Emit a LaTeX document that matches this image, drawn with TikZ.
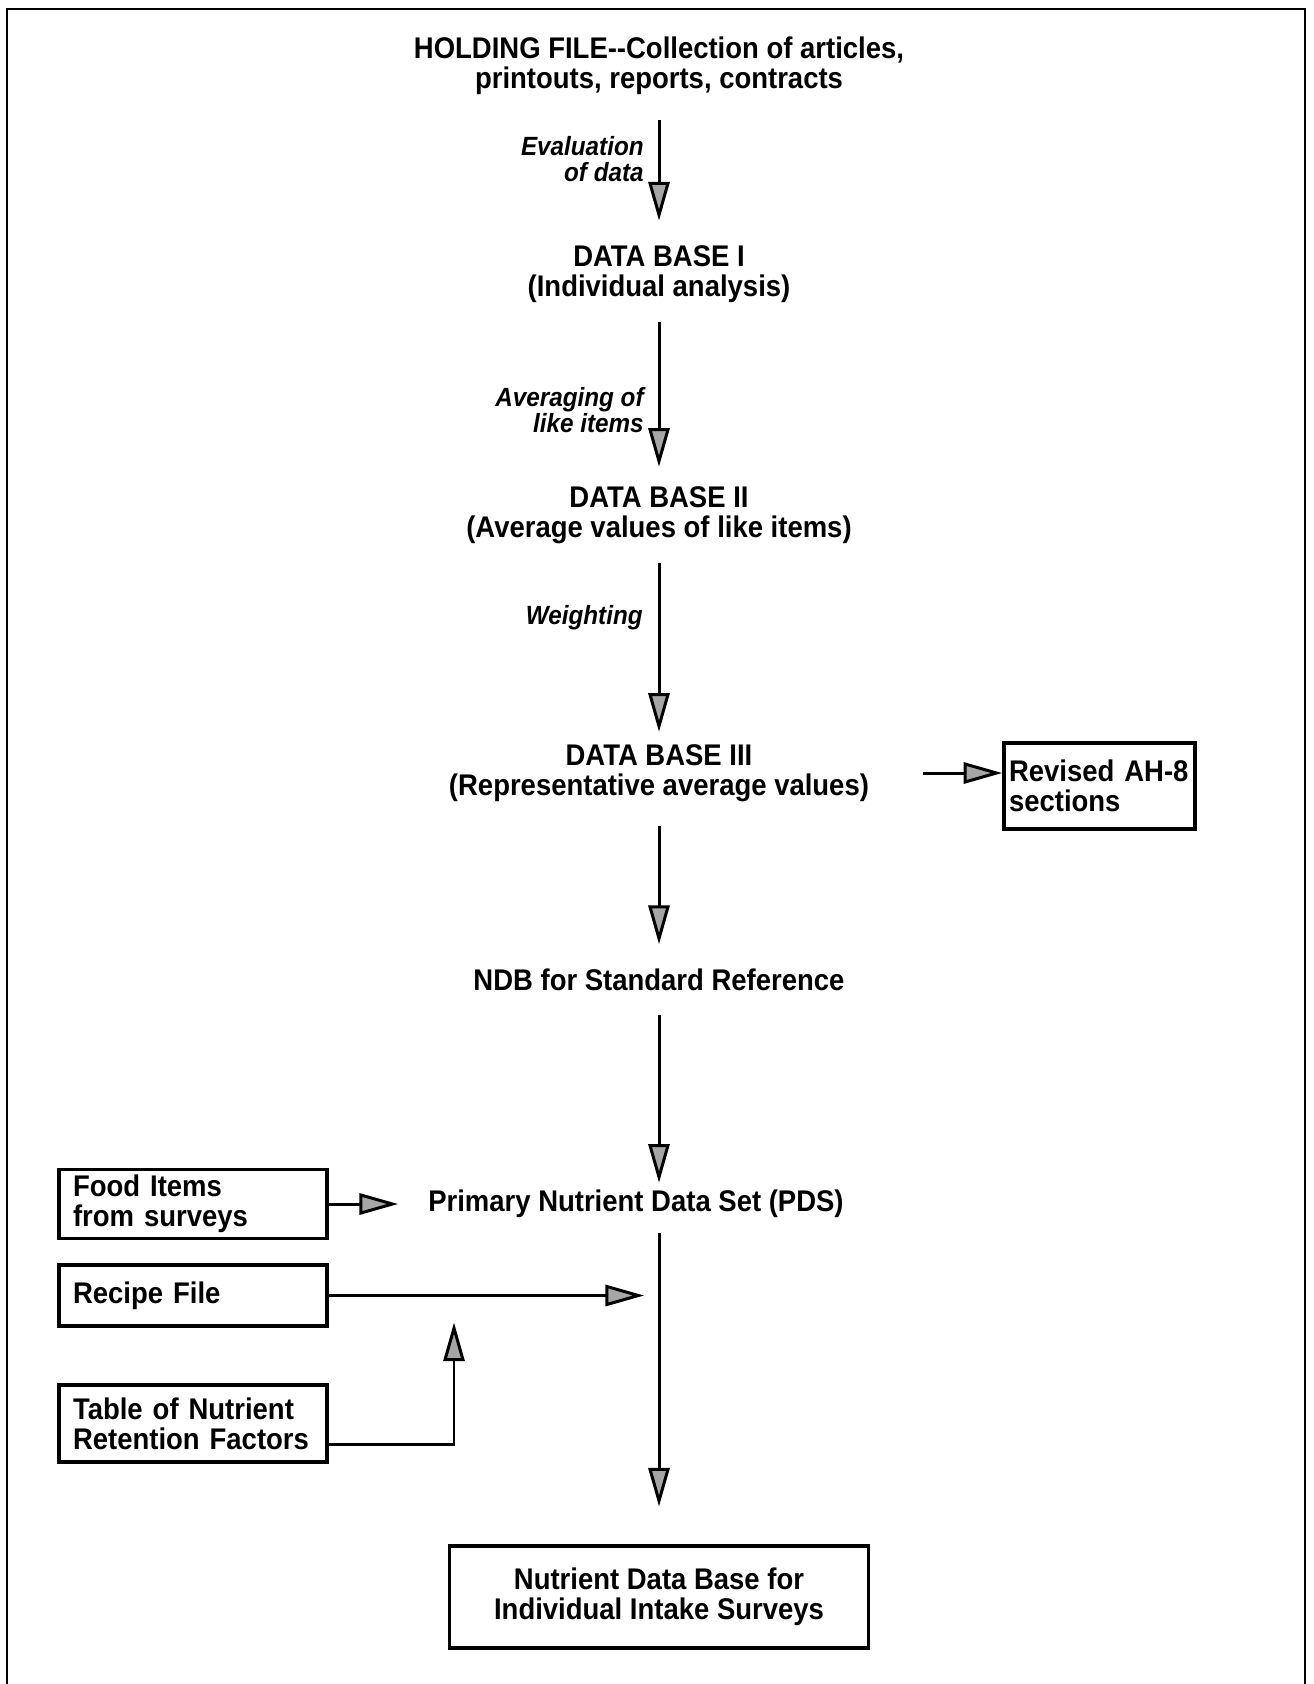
\documentclass[tikz,border=0pt]{standalone}
\usepackage{fontspec}
\setmainfont{Liberation Sans}[FakeStretch=0.92]
\usetikzlibrary{arrows.meta,positioning}

\begin{document}
\begin{tikzpicture}[x=0.02cm,y=-0.02cm,
    >={Triangle[length=22pt,width=12pt,fill=gray!70]},
    font=\fontsize{17}{17}\selectfont\bfseries]
  \tikzstyle{stage}=[align=center,inner sep=0pt]
  \tikzstyle{source}=[draw=black,line width=2pt,align=left,inner xsep=0.28cm,text width=4.8cm]
  \tikzstyle{flow}=[->,line width=1.7pt]
  \tikzstyle{how}=[font=\fontsize{15}{15}\selectfont\bfseries\itshape,align=right,anchor=east,inner sep=0pt]

  \useasboundingbox (0,0) rectangle (1313,1684);
  \draw[line width=1.5pt] (7,1684) -- (7,9) -- (1305,9) -- (1305,1684);

  \node[stage] (hold) at (659,66)  {HOLDING FILE{-}{-}Collection of articles,\\printouts, reports, contracts};
  \node[stage] (db1)  at (659,274) {DATA BASE I\\(Individual analysis)};
  \node[stage] (db2)  at (659,515) {DATA BASE II\\(Average values of like items)};
  \node[stage] (db3)  at (659,773) {DATA BASE III\\(Representative average values)};
  \node[stage] (ndb)  at (659,980) {NDB for Standard Reference};
  \node[stage] (pds)  at (636,1204) {Primary Nutrient Data Set (PDS)};

  \node[source,text width=3.62cm,inner xsep=0.1cm,minimum height=1.72cm] (revised) at (1099.5,786) {Revised AH-8\\sections};
  \node[source,minimum height=1.36cm] (food)   at (193,1204)  {Food Items\\from surveys};
  \node[source,minimum height=1.22cm] (recipe) at (193,1295.5) {Recipe File};
  \node[source,minimum height=1.54cm] (table)  at (193,1423.5) {Table of Nutrient\\Retention Factors};
  \node[draw=black,line width=2pt,align=center,minimum width=8.38cm,minimum height=2.04cm] (final) at (659,1597)
    {Nutrient Data Base for\\Individual Intake Surveys};

  \node[how] (eval) at (644,159) {Evaluation\\of data};
  \node[how] (avg)  at (644,410) {Averaging of\\like items};
  \node[how] (wgt)  at (643,618) {Weighting};

  \coordinate (mix) at (454,1295.5);

  \draw[flow,shorten <=14pt,shorten >=14pt] (hold) -- (db1);
  \draw[flow,shorten <=11pt,shorten >=11pt] (db1) -- (db2);
  \draw[flow,shorten <=11pt,shorten >=7pt] (db2) -- (db3);
  \draw[flow,shorten <=30.6pt] (db3) -- (db3 -| revised.west);
  \draw[flow,shorten <=14pt,shorten >=14pt] (db3) -- (ndb);
  \draw[flow,shorten <=13.6pt,shorten >=4pt] (ndb) -- (pds.north -| ndb);
  \draw[flow,shorten <=8.5pt,shorten >=21.5pt] (pds.south -| ndb) -- (final);
  \draw[flow,shorten >=17pt] (food) -- (food -| pds.west);
  \draw[flow,shorten >=8.5pt] (recipe) -- (recipe -| ndb);
  \draw[flow] ([yshift=-0.42cm]table.east) -| ([yshift=-0.54cm]mix);
\end{tikzpicture}
\end{document}
